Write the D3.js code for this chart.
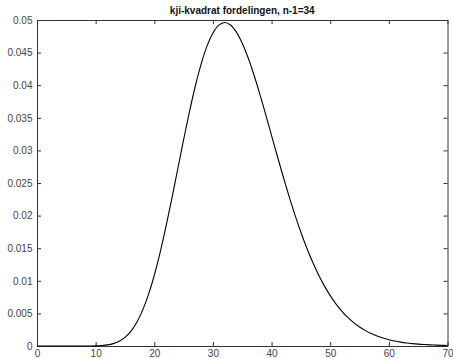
<!DOCTYPE html>
<html><head><meta charset="utf-8">
<script src="https://cdn.jsdelivr.net/npm/d3@7"></script>
<style>body{margin:0;background:#fff}svg{display:block}</style>
</head><body>
<script>
const title = "kji-kvadrat fordelingen, n-1=34";
const xValues = [0,1,2,3,4,5,6,7,8,9,10,11,12,13,14,15,16,17,18,19,20,21,22,23,24,25,26,27,28,29,30,31,32,33,34,35,36,37,38,39,40,41,42,43,44,45,46,47,48,49,50,51,52,53,54,55,56,57,58,59,60,61,62,63,64,65,66,67,68,69,70];
const density = [0,0,0,0,0,0,0,0,0.0000019,0.0000075,0.0000246,0.0000685,0.000167,0.000365,0.000724,0.001325,0.002257,0.003610,0.005465,0.007873,0.010850,0.014365,0.018340,0.022653,0.027147,0.031640,0.035944,0.039877,0.043280,0.046024,0.048018,0.049215,0.049611,0.049232,0.048144,0.046432,0.044200,0.041559,0.038620,0.035495,0.032281,0.029066,0.025923,0.022911,0.020075,0.017444,0.015039,0.012869,0.010931,0.009222,0.007728,0.006434,0.005325,0.004380,0.003583,0.002915,0.002359,0.001899,0.001521,0.001213,0.000963,0.000761,0.000598,0.000469,0.000366,0.000284,0.000220,0.000170,0.000131,0.000100,0.0000764];
const xTicks = [0,10,20,30,40,50,60,70];
const yTicks = [0,0.005,0.01,0.015,0.02,0.025,0.03,0.035,0.04,0.045,0.05];

const W = 453, H = 359;
const m = {left: 37, right: 5.5, top: 20, bottom: 13};
const svg = d3.select("body").append("svg").attr("width", W).attr("height", H);
const x = d3.scaleLinear().domain([0,70]).range([m.left, W - m.right]);
const y = d3.scaleLinear().domain([0,0.05]).range([H - m.bottom, m.top]);
const font = "'Liberation Sans', Arial, Helvetica, sans-serif";
const axisColor = "#333";
const textColor = "#444";

function styleAxis(g, showText) {
  g.selectAll("path").attr("stroke", axisColor).attr("stroke-width", 1);
  g.selectAll("line").attr("stroke", axisColor).attr("stroke-width", 1);
  g.selectAll("text").attr("fill", textColor).style("font-family", font).style("font-size", "10px");
  if (!showText) g.selectAll("text").remove();
}

// bottom
const gb = svg.append("g").attr("transform", `translate(0,${y(0)})`)
  .call(d3.axisBottom(x).tickValues(xTicks).tickSize(-4).tickSizeOuter(0).tickPadding(3.5).tickFormat(d3.format("d")));
styleAxis(gb, true);
// top
const gt = svg.append("g").attr("transform", `translate(0,${y(0.05)})`)
  .call(d3.axisTop(x).tickValues(xTicks).tickSize(-4).tickSizeOuter(0));
styleAxis(gt, false);
// left
const gl = svg.append("g").attr("transform", `translate(${x(0)},0)`)
  .call(d3.axisLeft(y).tickValues(yTicks).tickSize(-4).tickSizeOuter(0).tickPadding(4.5).tickFormat(d => d === 0 ? "0" : String(+d.toFixed(3))));
styleAxis(gl, true);
// right
const gr = svg.append("g").attr("transform", `translate(${x(70)},0)`)
  .call(d3.axisRight(y).tickValues(yTicks).tickSize(-4).tickSizeOuter(0));
styleAxis(gr, false);

// curve
const pts = xValues.map((v, i) => [v, density[i]]);
svg.append("path").datum(pts)
  .attr("fill", "none").attr("stroke", "#000").attr("stroke-width", 1.1)
  .attr("d", d3.line().x(d => x(d[0])).y(d => y(d[1])).curve(d3.curveCatmullRom));

// title
svg.append("text").attr("x", (x(0) + x(70)) / 2).attr("y", 14)
  .attr("text-anchor", "middle").attr("fill", "#111")
  .style("font-family", font).style("font-size", "10px").style("font-weight", "bold")
  .text(title);
</script>
</body></html>
